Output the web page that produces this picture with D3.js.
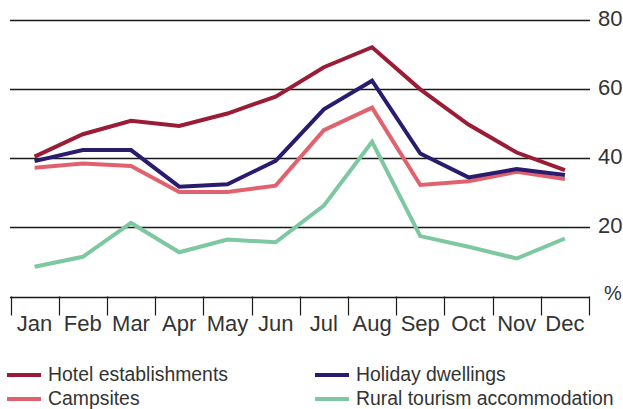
<!DOCTYPE html>
<html><head><meta charset="utf-8">
<script src="https://cdn.jsdelivr.net/npm/d3@7/dist/d3.min.js"></script>
<style>
html,body{margin:0;padding:0;background:#fff;}
svg{display:block;}
text{font-family:"Liberation Sans",Arial,sans-serif;fill:#333;}
</style></head>
<body>
<script>
const months = ["Jan","Feb","Mar","Apr","May","Jun","Jul","Aug","Sep","Oct","Nov","Dec"];
const hotel    = [40.5, 47.0, 50.9, 49.4, 53.0, 57.9, 66.4, 72.2, 60.0, 49.8, 41.7, 36.6];
const holiday  = [39.2, 42.4, 42.4, 31.8, 32.5, 39.3, 54.2, 62.5, 41.4, 34.5, 36.9, 35.2];
const campsites= [37.3, 38.5, 37.8, 30.3, 30.3, 32.1, 48.2, 54.7, 32.3, 33.4, 36.1, 34.0];
const rural    = [8.6, 11.5, 21.3, 12.8, 16.5, 15.7, 26.3, 44.8, 17.5, 14.4, 11.0, 16.8];
const yTicks = [20, 40, 60, 80];
const seriesNames = ["Hotel establishments","Holiday dwellings","Campsites","Rural tourism accommodation"];
const seriesColors = ["#9a1c36","#2a1b6e","#e2616f","#7dc7a1"];

const W = 623, H = 409;
const svg = d3.select("body").append("svg").attr("width", W).attr("height", H);

const x = d3.scaleBand().domain(months).range([10.5, 589]).padding(0);
const y = d3.scaleLinear().domain([0, 80]).range([296.5, 20.3]);
const cx = m => x(m) + x.bandwidth() / 2;

// gridlines + y labels
const g = svg.append("g");
g.selectAll("line.grid").data(yTicks).join("line")
  .attr("x1", 10).attr("x2", 590)
  .attr("y1", d => Math.round(y(d)) + 0.5).attr("y2", d => Math.round(y(d)) + 0.5)
  .attr("stroke", "#1a1a1a").attr("stroke-width", 1.4);
g.selectAll("text.yl").data(yTicks).join("text")
  .attr("x", 598).attr("y", d => y(d) + 6)
  .attr("font-size", 22).text(d => d);
svg.append("text").attr("x", 604).attr("y", 300).attr("font-size", 20).text("%");

// baseline axis with ticks at band boundaries
svg.append("line").attr("x1", 10).attr("x2", 590)
  .attr("y1", Math.round(y(0)) + 0.5).attr("y2", Math.round(y(0)) + 0.5)
  .attr("stroke", "#1a1a1a").attr("stroke-width", 1.4);
const edges = months.map(m => x(m)).concat([x(months[11]) + x.bandwidth()]);
svg.selectAll("line.tick").data(edges).join("line")
  .attr("x1", d => Math.round(d) + 0.5).attr("x2", d => Math.round(d) + 0.5)
  .attr("y1", y(0)).attr("y2", y(0) + 19)
  .attr("stroke", "#1a1a1a").attr("stroke-width", 1.2);
svg.selectAll("text.month").data(months).join("text")
  .attr("x", d => cx(d)).attr("y", 331)
  .attr("text-anchor", "middle").attr("font-size", 22).text(d => d);

// lines
const line = d3.line().x((d, i) => cx(months[i])).y(d => y(d));
const drawOrder = [[rural, 3], [campsites, 2], [holiday, 1], [hotel, 0]];
drawOrder.forEach(([vals, k]) => {
  svg.append("path").datum(vals).attr("d", line)
    .attr("fill", "none").attr("stroke", seriesColors[k])
    .attr("stroke-width", 4).attr("stroke-linejoin", "miter");
});

// legend
const legendPos = [[7, 375], [315, 375], [7, 399], [315, 399]];
seriesNames.forEach((name, i) => {
  const [lx, ly] = legendPos[i];
  svg.append("line").attr("x1", lx).attr("x2", lx + 34)
    .attr("y1", ly).attr("y2", ly)
    .attr("stroke", seriesColors[i]).attr("stroke-width", 4);
  svg.append("text").attr("x", lx + 41).attr("y", ly + 6)
    .attr("font-size", 19.4).text(name);
});
</script>
</body></html>
